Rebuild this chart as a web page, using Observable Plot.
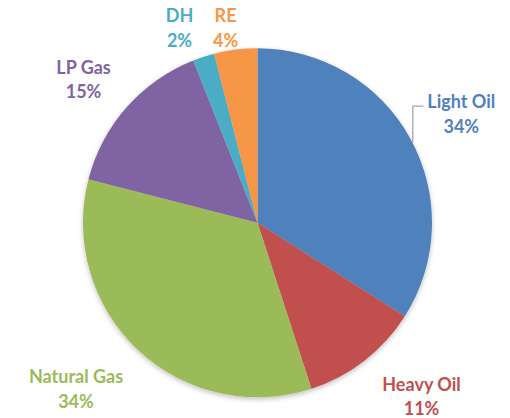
<!DOCTYPE html>
<html><head><meta charset="utf-8">
<script src="https://cdn.jsdelivr.net/npm/d3@7"></script>
<script src="https://cdn.jsdelivr.net/npm/@observablehq/plot@0.6"></script>
<style>html,body{margin:0;padding:0;background:#fff}</style>
</head><body><div id="chart"></div>
<script>
// Data
const categories = ["Light Oil", "Heavy Oil", "Natural Gas", "LP Gas", "DH", "RE"];
const shares = [34, 11, 34, 15, 2, 4];
const colors = ["#4F81BD", "#C0504D", "#9BBB59", "#8064A2", "#4BACC6", "#F79646"];

// Layout (label anchors in pie-radius units, y up)
const labelX = [1.165, 0.937, -1.043, -1.0, -0.45, -0.186];
const labelY = [0.633, -0.983, -0.94, 0.831, 1.126, 1.126];
const leaderX = [0.948, 0.887, 0.887];
const leaderY = [0.670, 0.670, 0.462];

const data = categories.map((name, i) => ({name, share: shares[i]}));
const labels = data.map((d, i) => ({...d, lx: labelX[i], ly: labelY[i]}));
const leader = leaderX.map((x, i) => ({x, y: leaderY[i]}));

function pieMark(index, scales, values, dims, ctx) {
  const cx = scales.x(0), cy = scales.y(0);
  const r = scales.x(1) - cx;
  const arcs = d3.pie().sort(null).value(d => d.share)(data);
  const arc = d3.arc().innerRadius(0).outerRadius(r);
  const g = d3.create("svg:g");
  const defs = g.append("defs");
  const f = defs.append("filter").attr("id", "pieShadow").attr("x", "-10%").attr("y", "-10%").attr("width", "120%").attr("height", "120%");
  f.append("feDropShadow").attr("dx", 0).attr("dy", 2).attr("stdDeviation", 2.5).attr("flood-color", "#000").attr("flood-opacity", 0.25);
  const p = g.append("g").attr("transform", `translate(${cx},${cy})`).attr("filter", "url(#pieShadow)");
  p.selectAll("path").data(arcs).join("path")
    .attr("d", arc)
    .attr("fill", d => scales.color(d.data.name));
  return g.node();
}

const chart = Plot.plot({
  width: 510,
  height: 418,
  margin: 0,
  x: {domain: [-1, 1], range: [83, 432], axis: null},
  y: {domain: [-1, 1], range: [397.5, 48], axis: null},
  color: {domain: categories, range: colors},
  style: {background: "#fff"},
  marks: [
    pieMark,
    Plot.line(leader, {x: "x", y: "y", stroke: "#a6a6a6", strokeWidth: 1.3, strokeLinejoin: "miter", strokeLinecap: "butt"}),
    Plot.text(labels, {
      x: "lx", y: "ly",
      text: d => `${d.name}\n${d.share}%`,
      fill: "name",
      fontSize: 18,
      fontWeight: "bold",
      fontFamily: "Lato, 'Open Sans', sans-serif",
      lineHeight: 1.38,
      textAnchor: "middle",
      lineAnchor: "middle"
    })
  ]
});
document.getElementById("chart").appendChild(chart);
</script>
</body></html>
